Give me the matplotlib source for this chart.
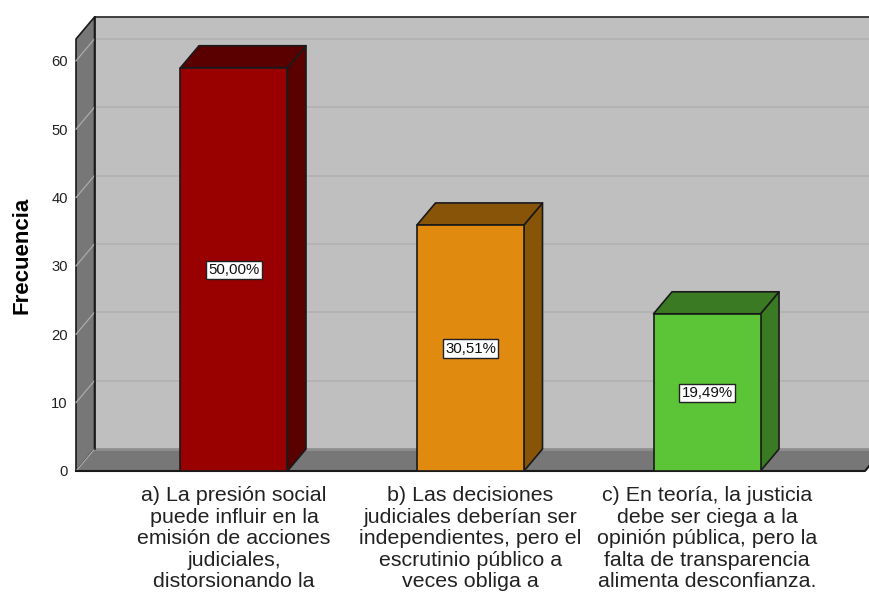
import matplotlib
matplotlib.use("Agg")
import matplotlib.pyplot as plt
from matplotlib.patches import Polygon

plt.rcParams['font.family'] = ['Liberation Sans', 'DejaVu Sans']

categories = [
    "a) La presión social\npuede influir en la\nemisión de acciones\njudiciales,\ndistorsionando la",
    "b) Las decisiones\njudiciales deberían ser\nindependientes, pero el\nescrutinio público a\nveces obliga a",
    "c) En teoría, la justicia\ndebe ser ciega a la\nopinión pública, pero la\nfalta de transparencia\nalimenta desconfianza.",
]
values = [59, 36, 23]
percent_labels = ["50,00%", "30,51%", "19,49%"]
y_ticks = [0, 10, 20, 30, 40, 50, 60]
front_colors = ["#990000", "#E08A0F", "#5CC437"]
side_colors = ["#5A0000", "#875408", "#3A7A22"]

W, H = 870, 592
fig = plt.figure(figsize=(W / 100, H / 100), dpi=100, facecolor="white")
L, R, T, B = 76, 865, 39, 471
ax = fig.add_axes([L / W, 1 - B / H, (R - L) / W, (B - T) / H])
ax.set_facecolor("none")
ax.set_xlim(-0.668, 2.668)
ax.set_ylim(0, 63.2)
for s in ax.spines.values():
    s.set_visible(False)

xa, xb = ax.get_xlim()
ya, yb = ax.get_ylim()
dx = 18.5 * (xb - xa) / (R - L)
dy = 22 / 6.84
edge = "#1a1a1a"

def poly(pts, fc, ec=edge, lw=1.2, z=1):
    ax.add_patch(Polygon(pts, closed=True, facecolor=fc, edgecolor=ec, lw=lw,
                         clip_on=False, zorder=z, joinstyle="round"))

# back wall, side wall, floor
poly([(xa + dx, ya + dy), (xb + dx, ya + dy), (xb + dx, yb + dy), (xa + dx, yb + dy)], "#BFBFBF", ec="none", z=1)
ax.plot([xa + dx, xb + dx], [yb + dy, yb + dy], color="#333333", lw=1.3, zorder=1.2, clip_on=False)
poly([(xa, ya), (xa + dx, ya + dy), (xa + dx, yb + dy), (xa, yb)], "#777777", z=2)
poly([(xa, ya), (xb, ya), (xb + dx, ya + dy), (xa + dx, ya + dy)], "#777777", ec="none", z=2)
ax.plot([xa + dx, xb + dx], [ya + dy, ya + dy], color="#8F8F8F", lw=2, zorder=2.1, clip_on=False)

# grid lines on walls
for v in y_ticks:
    if v > 0:
        ax.plot([xa + dx, xb + dx], [v + dy, v + dy], color="#B3B3B3", lw=1.4, zorder=1.5, clip_on=False)
    ax.plot([xa, xa + dx], [v, v + dy], color="#ABABAB", lw=0.9, zorder=2.5, clip_on=False)
ax.plot([xa + dx, xa + dx], [ya + dy, yb + dy], color=edge, lw=1.2, zorder=2.6, clip_on=False)
ax.plot([xa, xb, xb + dx], [0, 0, dy], color=edge, lw=1.5, zorder=2.7, clip_on=False)

# 3D bars
hw = 53.5 / 236.5
for i, (v, fc, sc, lab) in enumerate(zip(values, front_colors, side_colors, percent_labels)):
    poly([(i + hw, 0), (i + hw + dx, dy), (i + hw + dx, v + dy), (i + hw, v)], sc, z=3)
    poly([(i - hw, v), (i + hw, v), (i + hw + dx, v + dy), (i - hw + dx, v + dy)], sc, z=3)
    poly([(i - hw, 0), (i + hw, 0), (i + hw, v), (i - hw, v)], fc, z=4)
    ax.text(i, v / 2 - 0.1, lab, ha="center", va="center", fontsize=10.8, color="#111111", zorder=5,
            bbox=dict(boxstyle="square,pad=0.16", fc="white", ec="#222222", lw=1))

ax.set_yticks(y_ticks)
ax.set_xticks(range(len(categories)))
ax.set_xticklabels(categories, fontsize=15.4, linespacing=1.17, color="#222222")
ax.tick_params(axis="x", length=0, pad=11)
ax.tick_params(axis="y", length=0, pad=6, labelsize=10.6, labelcolor="#222222")
fig.text(22 / W, 1 - 255 / H, "Frecuencia", rotation=90, ha="center", va="center",
         fontsize=16, fontweight="bold", color="black")

fig.savefig("out.png", dpi=100, facecolor="white")
